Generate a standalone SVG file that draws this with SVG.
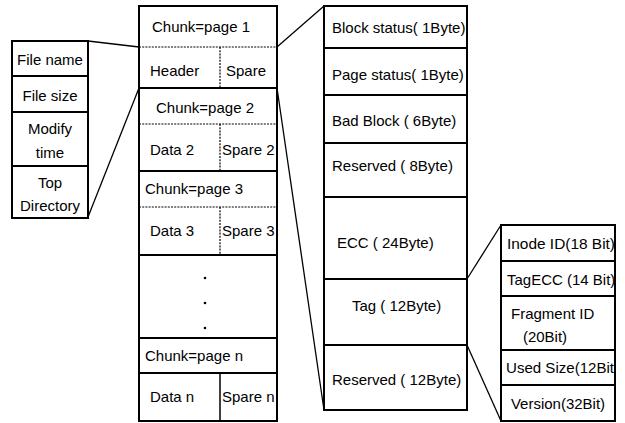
<svg xmlns="http://www.w3.org/2000/svg" width="625" height="423" viewBox="0 0 625 423">
<style>
.b{fill:#fff;stroke:#000;stroke-width:2}
.d{stroke:#000;stroke-width:1.2;stroke-dasharray:2 1.2;fill:none}
.c{stroke:#000;stroke-width:1.3;fill:none}
text{font-family:"Liberation Sans",Arial,sans-serif;font-size:15px;fill:#000}
.m{text-anchor:middle}
</style>
<rect width="625" height="423" fill="#fff"/>
<g id="file-info">
<rect class="b" x="12" y="41" width="76" height="35"/>
<rect class="b" x="12" y="76" width="76" height="36"/>
<rect class="b" x="12" y="112" width="76" height="54"/>
<rect class="b" x="12" y="166" width="76" height="52"/>
<text x="50" y="65" class="m">File name</text>
<text x="50" y="101" class="m">File size</text>
<text x="50" y="134" class="m">Modify</text>
<text x="50" y="158" class="m">time</text>
<text x="50" y="188" class="m">Top</text>
<text x="50" y="211" class="m">Directory</text>
</g>
<g id="flash-pages">
<rect class="b" x="139" y="6" width="138" height="82"/>
<line class="d" x1="139" y1="47" x2="277" y2="47"/>
<line class="d" x1="220" y1="47" x2="220" y2="88"/>
<text x="201" y="32" class="m">Chunk=page 1</text>
<text x="150" y="76">Header</text>
<text x="226" y="76">Spare</text>
<rect class="b" x="139" y="88" width="138" height="83"/>
<line class="d" x1="139" y1="124" x2="277" y2="124"/>
<line class="d" x1="220" y1="124" x2="220" y2="171"/>
<text x="205" y="113" class="m">Chunk=page 2</text>
<text x="150" y="155">Data 2</text>
<text x="222" y="155">Spare 2</text>
<rect class="b" x="139" y="171" width="138" height="84"/>
<line class="d" x1="139" y1="207" x2="277" y2="207"/>
<line class="d" x1="220" y1="207" x2="220" y2="255"/>
<text x="145" y="194">Chunk=page 3</text>
<text x="150" y="236">Data 3</text>
<text x="222" y="236">Spare 3</text>
<rect class="b" x="139" y="255" width="138" height="83"/>
<circle cx="205" cy="278" r="1.3"/>
<circle cx="205" cy="303" r="1.3"/>
<circle cx="205" cy="328" r="1.3"/>
<rect class="b" x="139" y="338" width="138" height="83"/>
<line x1="139" y1="373" x2="277" y2="373" stroke="#000" stroke-width="2"/>
<line x1="220" y1="373" x2="220" y2="421" stroke="#000" stroke-width="1.5"/>
<text x="145" y="361">Chunk=page n</text>
<text x="150" y="402">Data n</text>
<text x="222" y="402">Spare n</text>
</g>
<g id="spare-fields">
<rect class="b" x="324" y="6" width="143" height="42"/>
<rect class="b" x="324" y="48" width="143" height="47"/>
<rect class="b" x="324" y="95" width="143" height="48"/>
<rect class="b" x="324" y="143" width="143" height="54"/>
<rect class="b" x="324" y="197" width="143" height="82"/>
<rect class="b" x="324" y="279" width="143" height="66"/>
<rect class="b" x="324" y="345" width="143" height="65"/>
<text x="332" y="33">Block status( 1Byte)</text>
<text x="332" y="80">Page status( 1Byte)</text>
<text x="332" y="126">Bad Block ( 6Byte)</text>
<text x="332" y="171">Reserved ( 8Byte)</text>
<text x="337" y="248">ECC ( 24Byte)</text>
<text x="352" y="311">Tag ( 12Byte)</text>
<text x="332" y="385">Reserved ( 12Byte)</text>
</g>
<g id="tag-fields">
<rect class="b" x="501" y="225" width="114" height="36"/>
<rect class="b" x="501" y="261" width="114" height="35"/>
<rect class="b" x="501" y="296" width="114" height="54"/>
<rect class="b" x="501" y="350" width="114" height="35"/>
<rect class="b" x="501" y="385" width="114" height="36"/>
<text x="507" y="249" textLength="108" lengthAdjust="spacingAndGlyphs">Inode ID(18 Bit)</text>
<text x="507" y="285">TagECC (14 Bit)</text>
<text x="511" y="319">Fragment ID</text>
<text x="545" y="342" class="m">(20Bit)</text>
<text x="506" y="373" textLength="108" lengthAdjust="spacingAndGlyphs">Used Size(12Bit</text>
<text x="558" y="409" class="m">Version(32Bit)</text>
</g>
<g id="connectors">
<line class="c" x1="88" y1="41" x2="139" y2="47"/>
<line class="c" x1="88" y1="217" x2="139" y2="88"/>
<line class="c" x1="277" y1="47" x2="324" y2="6"/>
<line class="c" x1="277" y1="88" x2="324" y2="410"/>
<line class="c" x1="467" y1="279" x2="501" y2="225"/>
<line class="c" x1="467" y1="345" x2="501" y2="421"/>
</g>
</svg>
